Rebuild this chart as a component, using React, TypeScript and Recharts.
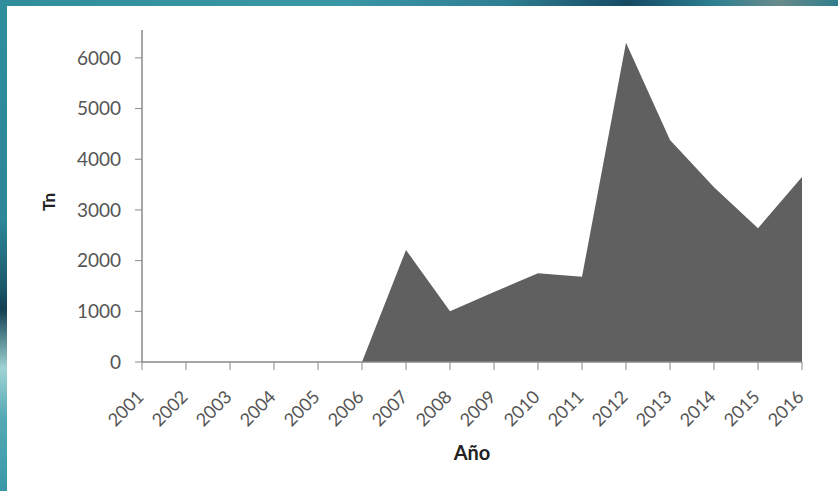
import React from 'react';
import { AreaChart, Area, XAxis, YAxis, Label } from 'recharts';

const years = ['2001', '2002', '2003', '2004', '2005', '2006', '2007', '2008', '2009', '2010', '2011', '2012', '2013', '2014', '2015', '2016'];
const tons = [0, 0, 0, 0, 0, 0, 2210, 1000, 1380, 1750, 1680, 6300, 4380, 3450, 2640, 3650];
const yTicks = [0, 1000, 2000, 3000, 4000, 5000, 6000];

const chartData = years.map((year, i) => ({ year, tn: tons[i] }));

const FONT = 'Lato, "Open Sans", sans-serif';

// rotated year labels, ending just right of the tick
const YearTick = ({ x, y, payload }: any) => (
  <text
    x={x + 3}
    y={y + 26}
    transform={`rotate(-45, ${x + 3}, ${y + 26})`}
    textAnchor="end"
    fill="#555"
    fontSize={18}
    fontFamily={FONT}
  >
    {payload.value}
  </text>
);

export default function App() {
  return (
    <div style={{ position: 'relative', width: 838, height: 491, overflow: 'hidden', background: '#fff' }}>
      <style>{'body{margin:0}'}</style>
      <div
        style={{
          position: 'absolute', left: 0, top: 0, width: 838, height: 6,
          background: 'linear-gradient(90deg, #2f8d9c 0%, #3a97a6 40%, #2f7f93 60%, #164a63 75%, #2b7f90 85%, #6a8a8a 93%, #2d7d8c 100%)',
        }}
      />
      <div
        style={{
          position: 'absolute', left: 0, top: 0, width: 7, height: 491,
          background: 'linear-gradient(180deg, #2f8d9c 0%, #2c8798 45%, #1b5a6c 58%, #123f52 63%, #9fd3d3 75%, #55a9b5 85%, #3a98a6 100%)',
        }}
      />
      <div style={{ position: 'absolute', left: 0, top: 0 }}>
        <AreaChart width={838} height={491} data={chartData} margin={{ top: 30, right: 36, left: 0, bottom: 29 }}>
          <XAxis
            dataKey="year"
            interval={0}
            height={100}
            tick={<YearTick />}
            tickSize={8}
            stroke="#8a8a8a"
            tickLine={{ stroke: '#8a8a8a' }}
            axisLine={{ stroke: '#8a8a8a', strokeWidth: 1.5 }}
          >
            <Label value="Año" position="insideBottom" offset={2} fill="#222" fontSize={20} fontWeight="bold" fontFamily={FONT} />
          </XAxis>
          <YAxis
            width={142}
            domain={[0, 6550]}
            ticks={yTicks}
            interval={0}
            tickSize={7}
            tickMargin={14}
            tick={{ fill: '#555', fontSize: 19, fontFamily: FONT }}
            tickLine={{ stroke: '#8a8a8a' }}
            axisLine={{ stroke: '#8a8a8a', strokeWidth: 1.5 }}
          >
            <Label
              content={({ viewBox }: any) => {
                const cx = 48;
                const cy = viewBox.y + viewBox.height / 2 + 6;
                return (
                  <text x={cx} y={cy} transform={`rotate(-90, ${cx}, ${cy})`} textAnchor="middle" dominantBaseline="central" fill="#222" fontSize={17} fontWeight="bold" fontFamily={FONT}>
                    Tn
                  </text>
                );
              }}
            />
          </YAxis>
          <Area type="linear" dataKey="tn" stroke="none" fill="#606060" fillOpacity={1} isAnimationActive={false} />
        </AreaChart>
      </div>
    </div>
  );
}
